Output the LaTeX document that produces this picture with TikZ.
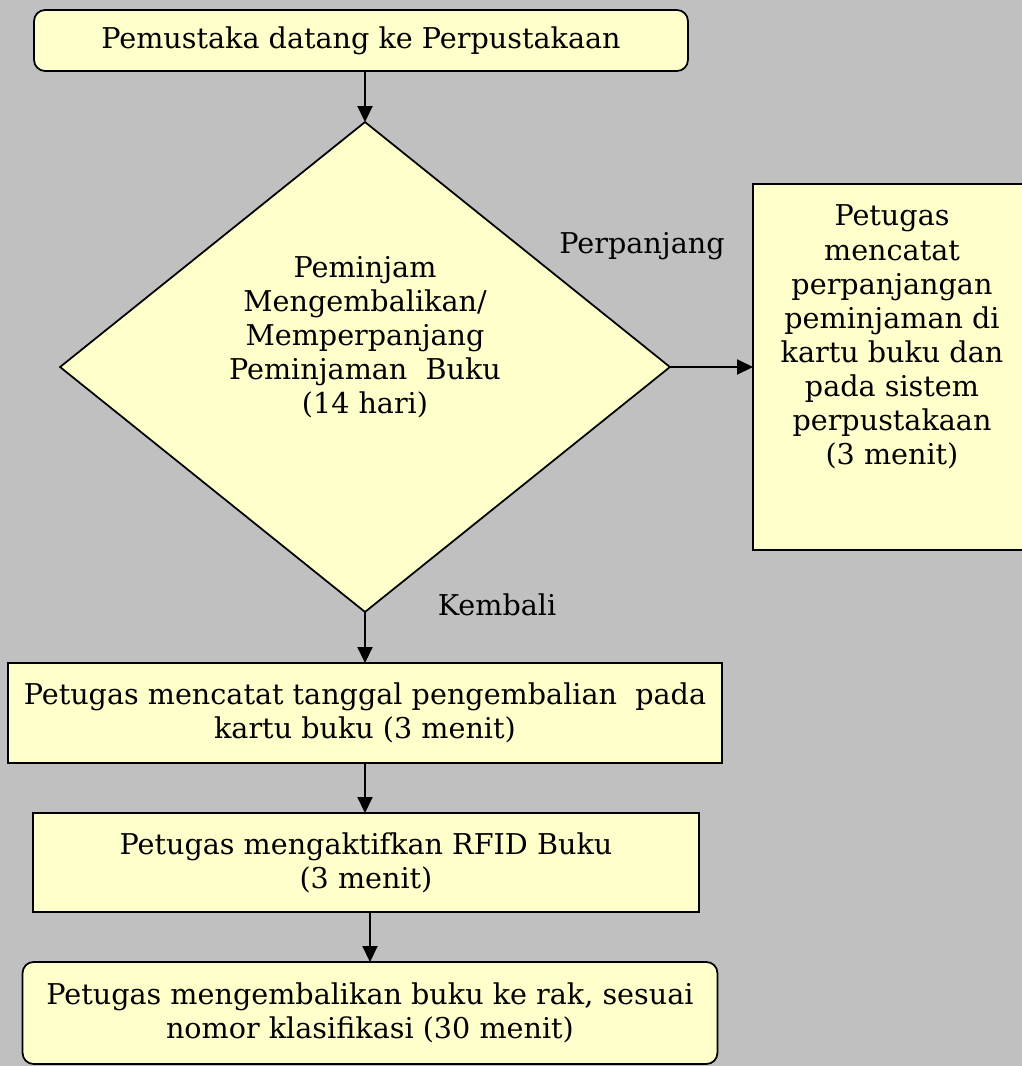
\documentclass[tikz,border=0pt]{standalone}
\usepackage{fontspec}
\setmainfont{DejaVu Serif}
\usetikzlibrary{shapes.geometric,arrows.meta}

\definecolor{latar}{HTML}{C0C0C0}
\definecolor{isian}{HTML}{FFFFCC}

\begin{document}
\begin{tikzpicture}[x=0.02cm, y=-0.02cm,
  every node/.style={outer sep=0pt, font=\fontsize{16.3}{19.4}\selectfont},
  kotak/.style={draw, fill=isian, line width=1pt, inner sep=0pt, align=center},
  bulat/.style={kotak, rounded corners=0.22cm},
  teks/.style={align=center, inner sep=0pt},
  panah/.style={line width=1.1pt, -{Triangle[length=0.32cm, width=0.3cm]}}]
\fill[latar] (0,0) rectangle (1022,1066);
\useasboundingbox (0,0) rectangle (1022,1066);

\node[bulat, minimum width=13.08cm, minimum height=1.22cm] (datang) at (361,40.5) {Pemustaka datang ke Perpustakaan};

\node[kotak, diamond, minimum width=12.2cm, minimum height=9.8cm] (cek) at (365,367) {};
\node[teks] (cekteks) at (365,337) {Peminjam\\Mengembalikan/\\Memperpanjang\\Peminjaman~ Buku\\(14 hari)};

\node[kotak, minimum width=5.58cm, minimum height=7.32cm] (catat) at (892.5,367) {};
\node[teks] (catatteks) at (892,337) {Petugas\\mencatat\\perpanjangan\\peminjaman di\\kartu buku dan\\pada sistem\\perpustakaan\\(3 menit)};

\node[kotak, minimum width=14.28cm, minimum height=2cm] (kembali) at (365,713) {Petugas mencatat tanggal pengembalian~ pada\\kartu buku (3 menit)};
\node[kotak, minimum width=13.32cm, minimum height=1.98cm] (aktif) at (366,862.5) {Petugas mengaktifkan RFID Buku\\(3 menit)};
\node[bulat, minimum width=13.9cm, minimum height=2.04cm] (rak) at (370,1013) {Petugas mengembalikan buku ke rak, sesuai\\nomor klasifikasi (30 menit)};

\node (perpanjang) at (642,246) {Perpanjang};
\node (balik) at (497,605) {Kembali};

\draw[panah] (datang.south -| cek.north) -- (cek.north);
\draw[panah] (cek.east) -- (catat.west);
\draw[panah] (cek.south) -- (kembali.north);
\draw[panah] (kembali.south -| cek.south) -- (aktif.north -| cek.south);
\draw[panah] (aktif.south -| rak.north) -- (rak.north);
\end{tikzpicture}
\end{document}
